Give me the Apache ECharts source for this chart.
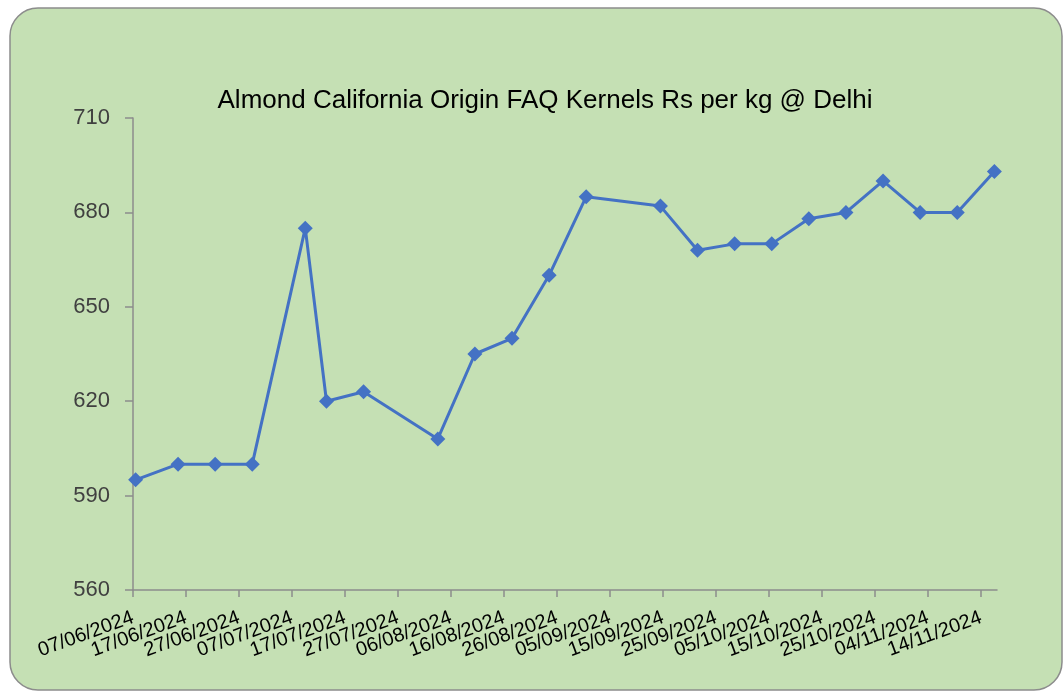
<!DOCTYPE html>
<html>
<head>
<meta charset="utf-8">
<script src="https://cdn.jsdelivr.net/npm/echarts@6/dist/echarts.min.js"></script>
<style>
  html, body { margin: 0; padding: 0; background: #ffffff; }
  #chart { width: 1063px; height: 692px; }
</style>
</head>
<body>
<div id="chart"></div>
<script>
  // price observations (dd/mm/yyyy) and Rs per kg
  const dates = [
    "07/06/2024", "15/06/2024", "22/06/2024", "29/06/2024", "09/07/2024",
    "13/07/2024", "20/07/2024", "03/08/2024", "10/08/2024", "17/08/2024",
    "24/08/2024", "31/08/2024", "14/09/2024", "21/09/2024", "28/09/2024",
    "05/10/2024", "12/10/2024", "19/10/2024", "26/10/2024", "02/11/2024",
    "09/11/2024", "16/11/2024",
  ]
  const prices = [
    595, 600, 600, 600, 675,
    620, 623, 608, 635, 640,
    660, 685, 682, 668, 670,
    670, 678, 680, 690, 680,
    680, 693,
  ]
  const startDate = "07/06/2024"
  const endDate = "17/11/2024"
  const tickStepDays = 10
  const yTicks = [560, 590, 620, 650, 680, 710]

  const DAY = 86400000
  function parseDate(s) {
    const [d, m, y] = s.split("/").map(Number)
    return Date.UTC(y, m - 1, d)
  }
  function fmt(t) {
    const dt = new Date(t)
    const dd = String(dt.getUTCDate()).padStart(2, "0")
    const mm = String(dt.getUTCMonth() + 1).padStart(2, "0")
    return dd + "/" + mm + "/" + dt.getUTCFullYear()
  }
  const t0 = parseDate(startDate)
  const dayOf = (s) => (parseDate(s) - t0) / DAY
  const xMax = dayOf(endDate)
  const xTicks = []
  for (let d = 0; d <= xMax - 1; d += tickStepDays) xTicks.push(d)
  // labels overlap like in the original, so split them over two axes
  // (otherwise echarts drops the ones next to the first/last label)
  const labelsA = xTicks.filter((d, i) => i % 2 === 0)
  const labelsB = xTicks.filter((d, i) => i % 2 === 1)
  // each day is a slot; the point sits in the middle of its day
  const seriesData = dates.map((s, i) => [dayOf(s) + 0.5, prices[i]])

  const labelStyle = {
    showMinLabel: true,
    showMaxLabel: true,
    hideOverlap: false,
    rotate: 20,
    margin: 27,
    color: "#000000",
    fontSize: 20,
    fontFamily: "Liberation Sans, Arial, sans-serif",
    formatter: (v) => fmt(t0 + v * DAY),
  }

  const myChart = echarts.init(document.getElementById("chart"))
  const option = {
    animation: false,
    graphic: [
      {
        type: "rect",
        z: -10,
        shape: { x: 10, y: 8, width: 1052, height: 682, r: 28 },
        style: { fill: "#c5e0b4", stroke: "#8c8c8c", lineWidth: 1.5 },
      },
    ],
    title: {
      text: "Almond California Origin FAQ Kernels Rs per kg @ Delhi",
      left: 540,
      textAlign: "center",
      top: 83,
      textStyle: {
        fontFamily: "Liberation Sans, Arial, sans-serif",
        fontWeight: "normal",
        fontSize: 26,
        color: "#000000",
      },
    },
    grid: {
      left: 133,
      right: 1063 - 997,
      top: 118,
      bottom: 692 - 590,
      containLabel: false,
    },
    xAxis: [
      {
        type: "value",
        min: 0,
        max: xMax,
        position: "bottom",
        splitLine: { show: false },
        axisLine: { show: true, lineStyle: { color: "#8c8c8c", width: 1.5 } },
        axisTick: {
          show: true,
          customValues: xTicks,
          length: 7,
          lineStyle: { color: "#8c8c8c", width: 1.5 },
        },
        axisLabel: Object.assign({ customValues: labelsA }, labelStyle),
      },
      {
        type: "value",
        min: 0,
        max: xMax,
        position: "bottom",
        offset: 0,
        splitLine: { show: false },
        axisLine: { show: false },
        axisTick: { show: false },
        axisLabel: Object.assign({ customValues: labelsB }, labelStyle),
      },
    ],
    yAxis: {
      type: "value",
      min: yTicks[0],
      max: yTicks[yTicks.length - 1],
      interval: 30,
      splitLine: { show: false },
      axisLine: { show: true, lineStyle: { color: "#8c8c8c", width: 1.5 } },
      axisTick: { show: true, length: 8, lineStyle: { color: "#8c8c8c", width: 1.5 } },
      axisLabel: {
        margin: 23,
        color: "#404040",
        fontSize: 22,
        fontFamily: "Liberation Sans, Arial, sans-serif",
      },
    },
    series: [
      {
        type: "line",
        xAxisIndex: 0,
        data: seriesData,
        symbol: "path://M0,-1L1,0L0,1L-1,0Z",
        symbolSize: 15,
        lineStyle: { color: "#4472c4", width: 3 },
        itemStyle: { color: "#4472c4" },
      },
    ],
  }
  myChart.setOption(option)
</script>
</body>
</html>
